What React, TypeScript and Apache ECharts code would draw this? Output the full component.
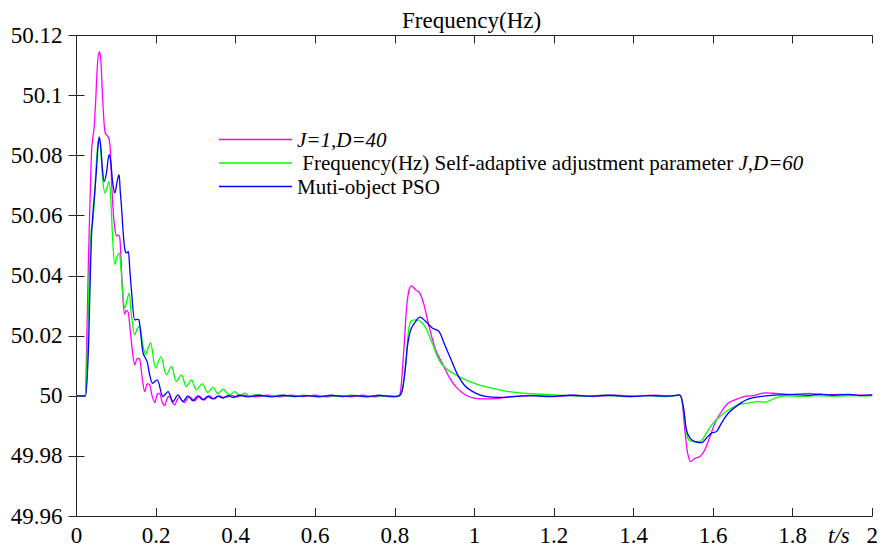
import React, { useEffect, useRef } from "react";
import * as echarts from "echarts";

const FONT = "'Times New Roman', 'Liberation Serif', 'DejaVu Serif', serif";

const seriesNames = [
  "J=1,D=40",
  " Frequency(Hz) Self-adaptive adjustment parameter J,D=60",
  "Muti-object PSO",
];
const seriesColors = ["#ff00ff", "#00ff00", "#0000ff"];

const magentaPts: [number, number][] = [
  [0, 50], [0.02, 50.0001], [0.022, 50], [0.026, 50.02], [0.03, 50.045], [0.034, 50.065], [0.038, 50.082],
  [0.0405, 50.0855], [0.044, 50.089], [0.048, 50.0976], [0.0525, 50.11], [0.057, 50.1146], [0.061, 50.112],
  [0.065, 50.101], [0.0695, 50.0905], [0.073, 50.0872], [0.078, 50.0866], [0.082, 50.0855], [0.085, 50.082],
  [0.088, 50.072], [0.092, 50.062], [0.096, 50.056], [0.1007, 50.0533], [0.105, 50.0535], [0.109, 50.0525],
  [0.113, 50.042], [0.117, 50.032], [0.121, 50.0272], [0.125, 50.0285], [0.13, 50.0278], [0.135, 50.022],
  [0.14, 50.0155], [0.1466, 50.0103], [0.153, 50.0125], [0.159, 50.0122], [0.165, 50.006], [0.1717, 50.0014],
  [0.178, 50.004], [0.184, 50.0037], [0.19, 50.0], [0.1967, 49.9978], [0.203, 50.0006], [0.209, 50.0008],
  [0.215, 49.998], [0.2218, 49.9968], [0.228, 49.9993], [0.234, 49.9998], [0.24, 49.998], [0.247, 49.997],
  [0.253, 49.9988], [0.259, 49.9996], [0.265, 49.9985], [0.272, 49.9978], [0.278, 49.999], [0.284, 49.9997],
  [0.29, 49.999], [0.297, 49.9983], [0.303, 49.9993], [0.309, 49.9999], [0.316, 49.999], [0.322, 49.9987],
  [0.328, 49.9996], [0.334, 50.0], [0.341, 49.9993], [0.347, 49.999], [0.354, 49.9997], [0.36, 50.0],
  [0.37, 49.9994], [0.38, 49.9997], [0.39, 50.0002], [0.4, 49.9996], [0.42, 50.0002], [0.45, 49.9997],
  [0.48, 50.0002], [0.51, 49.9997], [0.54, 50.0002], [0.57, 49.9998], [0.6, 50.0002], [0.63, 49.9997],
  [0.66, 50.0001], [0.69, 49.9997], [0.72, 50.0002], [0.75, 49.9997], [0.78, 50.0001], [0.8, 49.9997],
  [0.81, 49.9999], [0.815, 50.002], [0.8233, 50.0164], [0.8316, 50.032], [0.8416, 50.0367], [0.8526, 50.0353],
  [0.8627, 50.0342], [0.8734, 50.0303], [0.886, 50.0231], [0.9027, 50.0153], [0.919, 50.0109], [0.936, 50.0064],
  [0.953, 50.0031], [0.978, 50.0003], [1.003, 49.9992], [1.036, 49.999], [1.06, 49.9992], [1.086, 49.9996],
  [1.12, 50.0], [1.16, 50.0001], [1.2, 49.9998], [1.25, 50.0002], [1.3, 49.9998], [1.35, 50.0002],
  [1.4, 49.9999], [1.45, 50.0002], [1.5, 50.0], [1.515, 50.0003], [1.521, 49.9992], [1.529, 49.9887],
  [1.536, 49.9809], [1.544, 49.9781], [1.554, 49.9792], [1.567, 49.9798], [1.579, 49.982], [1.592, 49.9864],
  [1.6045, 49.9909], [1.621, 49.9948], [1.638, 49.9976], [1.655, 49.9987], [1.68, 49.9998], [1.705, 50.0002],
  [1.73, 50.001], [1.76, 50.0008], [1.8, 50.0005], [1.84, 50.0008], [1.88, 50.0003], [1.92, 50.0005],
  [1.96, 50.0002], [2.0, 50.0003],
];

const greenPts: [number, number][] = [
  [0, 50], [0.02, 50], [0.023, 50.0], [0.027, 50.015], [0.031, 50.035], [0.035, 50.052], [0.038, 50.056],
  [0.041, 50.058], [0.045, 50.065], [0.05, 50.078], [0.055, 50.085], [0.058, 50.0855], [0.062, 50.08],
  [0.066, 50.072], [0.0714, 50.0676], [0.076, 50.069], [0.0815, 50.0714], [0.086, 50.066], [0.091, 50.052],
  [0.0965, 50.0437], [0.101, 50.046], [0.107, 50.0476], [0.112, 50.042], [0.117, 50.033], [0.1216, 50.0292],
  [0.127, 50.032], [0.132, 50.0342], [0.138, 50.027], [0.1466, 50.0203], [0.153, 50.0225], [0.159, 50.0231],
  [0.166, 50.0175], [0.174, 50.0137], [0.18, 50.016], [0.186, 50.0176], [0.199, 50.0092], [0.212, 50.0131],
  [0.226, 50.007], [0.2386, 50.0098], [0.251, 50.0048], [0.2637, 50.007], [0.276, 50.0031], [0.2887, 50.0053],
  [0.301, 50.002], [0.316, 50.004], [0.33, 50.0011], [0.343, 50.0029], [0.3554, 50.0007], [0.368, 50.0022],
  [0.385, 50.0003], [0.397, 50.0014], [0.41, 50.0002], [0.423, 50.0009], [0.436, 49.9999], [0.45, 50.0004],
  [0.48, 49.9998], [0.51, 50.0002], [0.54, 49.9998], [0.57, 50.0002], [0.6, 49.9998], [0.63, 50.0001],
  [0.66, 49.9998], [0.69, 50.0002], [0.72, 49.9998], [0.75, 50.0001], [0.78, 49.9998], [0.81, 49.9999],
  [0.819, 50.002], [0.8275, 50.0109], [0.834, 50.0209], [0.84, 50.0248], [0.8526, 50.0253], [0.865, 50.0248],
  [0.8777, 50.0226], [0.894, 50.0176], [0.911, 50.012], [0.928, 50.0092], [0.953, 50.007], [0.978, 50.0053],
  [1.011, 50.0037], [1.057, 50.0022], [1.086, 50.0014], [1.144, 50.0007], [1.228, 50.0002], [1.28, 49.9999],
  [1.33, 50.0002], [1.38, 49.9998], [1.43, 50.0001], [1.48, 49.9998], [1.515, 50.0002], [1.525, 49.9964],
  [1.533, 49.9876], [1.539, 49.9853], [1.55, 49.9848], [1.567, 49.9848], [1.583, 49.9876], [1.6, 49.9909],
  [1.617, 49.9931], [1.638, 49.9953], [1.663, 49.997], [1.688, 49.9976], [1.713, 49.9981], [1.73, 49.9979],
  [1.755, 49.9992], [1.78, 50.0], [1.82, 49.9998], [1.86, 50.0001], [1.9, 49.9999], [1.95, 50.0001], [2.0, 50.0],
];

const bluePts: [number, number][] = [
  [0, 50], [0.02, 50], [0.023, 50.0], [0.0296, 50.0143], [0.0338, 50.0353], [0.038, 50.054], [0.042, 50.062],
  [0.046, 50.068], [0.05, 50.075], [0.054, 50.083], [0.057, 50.0862], [0.061, 50.083], [0.0655, 50.075],
  [0.0697, 50.0714], [0.075, 50.074], [0.082, 50.0803], [0.086, 50.078], [0.091, 50.071], [0.0965, 50.0676],
  [0.101, 50.0705], [0.1048, 50.073], [0.107, 50.0737], [0.11, 50.068], [0.113, 50.0631], [0.117, 50.055],
  [0.1216, 50.0487], [0.126, 50.0476], [0.13, 50.0481], [0.134, 50.042], [0.138, 50.0353], [0.1466, 50.0253],
  [0.152, 50.0255], [0.157, 50.0253], [0.162, 50.02], [0.1675, 50.0142], [0.1775, 50.0114], [0.184, 50.007],
  [0.191, 50.0042], [0.2026, 50.0053], [0.2176, 49.9998], [0.23, 50.0014], [0.2427, 49.9981], [0.255, 50.0003],
  [0.2677, 49.9981], [0.28, 50.0], [0.2928, 49.9984], [0.305, 50.0], [0.3178, 49.9987], [0.3304, 49.9998],
  [0.343, 49.999], [0.356, 49.9999], [0.368, 49.9993], [0.381, 50.0001], [0.393, 49.9995], [0.41, 50.0002],
  [0.43, 49.9997], [0.46, 50.0002], [0.49, 49.9997], [0.52, 50.0002], [0.55, 49.9998], [0.58, 50.0001],
  [0.61, 49.9997], [0.64, 50.0002], [0.67, 49.9998], [0.7, 50.0001], [0.73, 49.9997], [0.76, 50.0002],
  [0.79, 49.9998], [0.81, 50.0], [0.819, 50.002], [0.8275, 50.0105], [0.8316, 50.0164], [0.84, 50.022],
  [0.8526, 50.0248], [0.8634, 50.0262], [0.8777, 50.0248], [0.894, 50.0226], [0.911, 50.0215], [0.9236, 50.0176],
  [0.94, 50.0125], [0.958, 50.007], [0.978, 50.0031], [1.003, 50.0009], [1.028, 49.9998], [1.061, 49.9995],
  [1.1, 49.9998], [1.14, 50.0001], [1.19, 49.9998], [1.24, 50.0002], [1.29, 49.9999], [1.34, 50.0002],
  [1.39, 49.9998], [1.44, 50.0001], [1.49, 49.9999], [1.515, 50.0003], [1.525, 49.9964], [1.533, 49.9887],
  [1.542, 49.9859], [1.554, 49.9848], [1.571, 49.9844], [1.583, 49.9859], [1.596, 49.9876], [1.6085, 49.9881],
  [1.621, 49.9909], [1.638, 49.9942], [1.663, 49.997], [1.688, 49.9989], [1.721, 49.9998], [1.765, 50.0003],
  [1.8, 50.0004], [1.84, 50.0002], [1.87, 50.0006], [1.9, 50.0002], [1.94, 50.0005], [1.97, 50.0001], [2.0, 50.0003],
];

const X_MIN = 0, X_MAX = 2, X_STEP = 0.2;
const Y_MIN = 49.96, Y_MAX = 50.12, Y_STEP = 0.02;

export default function App() {
  const ref = useRef<HTMLDivElement>(null);
  useEffect(() => {
    if (!ref.current) return;
    const chart = echarts.init(ref.current, undefined, { renderer: "svg" });
    const axisLine = { show: true, lineStyle: { color: "#262626", width: 1 } };
    const tick = { show: true, inside: true, length: 8, lineStyle: { color: "#262626", width: 1 } };
    const xFmt = (v: number) => String(Math.round(v * 10) / 10);
    const yFmt = (v: number) => String(parseFloat(v.toFixed(2)));
    const datas = [magentaPts, greenPts, bluePts];
    chart.setOption({
      animation: false,
      backgroundColor: "#ffffff",
      textStyle: { fontFamily: FONT },
      title: {
        text: "Frequency(Hz)",
        left: 397,
        top: 4,
        textStyle: { fontFamily: FONT, fontSize: 23, fontWeight: "normal", color: "#000" },
      },
      grid: { left: 76.5, right: 5, top: 35.5, bottom: 35 },
      legend: {
        orient: "vertical",
        left: 214,
        top: 124,
        icon: "rect",
        itemWidth: 73,
        itemHeight: 1.5,
        itemGap: 2.5,
        data: seriesNames,
        formatter: (name: string) => {
          if (name === seriesNames[0]) return "{i|J=1,D=40}";
          if (name === seriesNames[1]) return "{n| Frequency(Hz) Self-adaptive adjustment parameter }{i|J,D=60}";
          return "{n|" + name + "}";
        },
        textStyle: {
          fontFamily: FONT,
          fontSize: 21,
          color: "#000",
          rich: {
            n: { fontFamily: FONT, fontSize: 21, color: "#000", lineHeight: 22 },
            i: { fontFamily: FONT, fontSize: 21, color: "#000", fontStyle: "italic", lineHeight: 22 },
          },
        },
      },
      graphic: [
        {
          type: "text",
          left: 828,
          top: 524,
          style: { text: "t/s", fontFamily: FONT, fontSize: 23, fontStyle: "italic", fill: "#000" },
        },
      ],
      xAxis: [
        {
          type: "value",
          min: X_MIN,
          max: X_MAX,
          interval: X_STEP,
          position: "bottom",
          axisLine,
          axisTick: tick,
          splitLine: { show: false },
          axisLabel: { formatter: xFmt, fontFamily: FONT, fontSize: 23, color: "#000", margin: 8 },
        },
        {
          type: "value",
          min: X_MIN,
          max: X_MAX,
          interval: X_STEP,
          position: "top",
          axisLine,
          axisTick: tick,
          splitLine: { show: false },
          axisLabel: { show: false },
        },
      ],
      yAxis: [
        {
          type: "value",
          min: Y_MIN,
          max: Y_MAX,
          interval: Y_STEP,
          position: "left",
          axisLine,
          axisTick: tick,
          splitLine: { show: false },
          axisLabel: { formatter: yFmt, fontFamily: FONT, fontSize: 23, color: "#000", margin: 14 },
        },
        {
          type: "value",
          min: Y_MIN,
          max: Y_MAX,
          interval: Y_STEP,
          position: "right",
          axisLine,
          axisTick: tick,
          splitLine: { show: false },
          axisLabel: { show: false },
        },
      ],
      series: seriesNames.map((name, i) => ({
        name,
        type: "line",
        xAxisIndex: 0,
        yAxisIndex: 0,
        data: datas[i],
        symbol: "none",
        showSymbol: false,
        smooth: 0.3,
        lineStyle: { color: seriesColors[i], width: 1.3 },
        itemStyle: { color: seriesColors[i] },
      })),
    });
    return () => chart.dispose();
  }, []);
  return (
    <div
      ref={ref}
      style={{ position: "fixed", left: 0, top: 0, width: 881, height: 551, background: "#fff" }}
    />
  );
}
